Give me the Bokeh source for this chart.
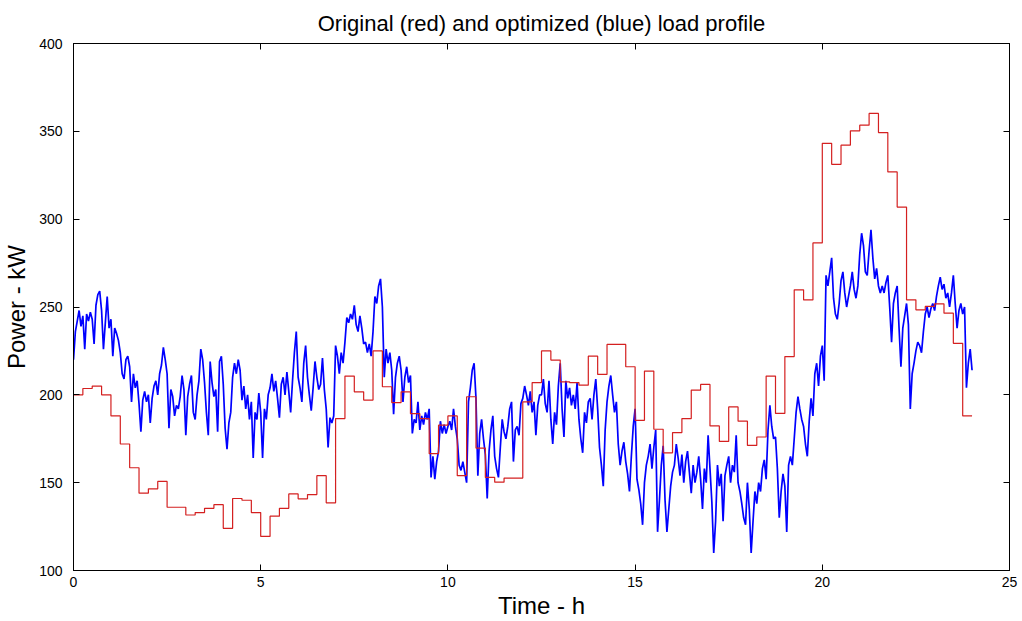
from bokeh.plotting import figure
from bokeh.models import LinearAxis, Range1d, FixedTicker, CustomJSTickFormatter
from bokeh.embed import file_html
from bokeh.resources import INLINE

# ---------------- data ----------------
title_text = "Original (red) and optimized (blue) load profile"
x_label = "Time - h"
y_label = "Power - kW"
x_ticks = [0, 5, 10, 15, 20, 25]
y_ticks = [100, 150, 200, 250, 300, 350, 400]

# original load profile: 15-minute steps over 24 h (kW)
original_step_h = 0.25
original_kw = [
    200, 203.6, 205, 200, 188, 172, 158.5, 144, 146.5, 150.7, 136, 136,
    131.6, 133, 135.4, 137.5, 124, 141, 140, 133, 119.4, 130.9, 135.4, 143.6,
    140.8, 143.2, 154, 138.5, 186.5, 210.7, 201.7, 197, 225, 204.6, 195.6, 201.7,
    189.3, 186.5, 166.5, 182.7, 188, 154, 198.9, 169.7, 153, 150.3, 152.6, 152.6,
    196, 207, 225, 219.8, 207.4, 207, 205.5, 222, 211.6, 228.7, 228.7, 216,
    185.5, 213.5, 180.4, 167, 178.5, 186.5, 202.7, 205.9, 182.3, 173.5, 193.1, 185,
    171.2, 176, 210.7, 189.4, 221.8, 259.8, 254, 286.5, 343.2, 331.2, 342.1, 350.3,
    353.5, 360.2, 349.3, 326.9, 306.9, 254.1, 248.4, 250.3, 251.8, 246.5, 229.3, 188,
]

# optimized load profile: read every 0.05 h (3 min) over 24 h (kW)
optimized_step_h = 0.05
optimized_kw = [
    # 0.00 - 4.20 h
    220, 236, 242, 248, 239, 245, 226, 246, 242, 247,
    243, 229, 251, 257, 259, 248, 226, 241, 256, 238,
    243, 222, 238, 235, 231, 224, 212, 209, 220, 222,
    216, 196, 212, 204, 208, 195, 179, 197, 202, 196,
    200, 184, 198, 205, 208, 200, 212, 217, 227, 220,
    212, 181, 203, 199, 188, 194, 192, 199, 211, 203,
    177, 199, 206, 211, 190, 186, 200, 208, 226, 220,
    207, 190, 177, 219, 207, 199, 203, 179, 219, 222,
    206, 181, 169, 184, 190,
    # 4.25 - 8.30 h
    210, 218, 212, 220, 214, 197, 205, 192, 200, 186,
    196, 164, 190, 186, 201, 190, 164, 192, 186, 200,
    204, 212, 202, 208, 198, 187, 206, 210, 200, 213,
    202, 190, 208, 224, 236, 210, 204, 196, 218, 228,
    210, 200, 191, 204, 219, 210, 203, 206, 221, 203,
    192, 170, 187, 184, 188, 228, 222, 212, 224, 218,
    230, 244, 241, 246, 243, 251, 240, 236, 245, 238,
    229, 230, 224, 229, 222, 236, 256, 252, 262, 266,
    250, 210,
    # 8.35 - 12.45 h
    226, 218, 224, 214, 189, 210, 218, 222, 214, 196,
    210, 216, 207, 211, 178, 186, 184, 196, 180, 188,
    183, 190, 186, 192, 153, 165, 152, 162, 168, 185,
    178, 183, 178, 182, 185, 180, 192, 182, 175, 160,
    157, 162, 156, 150, 196, 204, 214, 218, 198, 154,
    178, 186, 175, 166, 141, 168, 180, 188, 165, 158,
    153, 170, 186, 179, 175, 182, 192, 196, 162, 180,
    182, 177, 195, 198, 205, 200, 194, 202, 190, 196,
    177, 194, 200,
    # 12.50 - 16.55 h
    200, 209, 195, 190, 208, 186, 172, 190, 183, 205,
    218, 192, 176, 208, 198, 204, 194, 200, 192, 207,
    186, 175, 167, 190, 184, 196, 198, 186, 200, 209,
    192, 170, 160, 148, 180, 196, 205, 211, 200, 190,
    196, 172, 160, 168, 173, 162, 155, 145, 165, 182,
    192, 152, 146, 138, 126, 150, 160, 165, 172, 158,
    170, 180, 122, 140, 160, 171, 140, 122, 135, 148,
    156, 160, 172, 164, 154, 166, 150, 162, 168, 156,
    144, 160,
    # 16.60 - 20.70 h
    150, 156, 165, 152, 135, 158, 150, 177, 158, 139,
    110, 128, 160, 148, 155, 128, 154, 160, 165, 150,
    160, 156, 177, 150, 145, 138, 130, 126, 150, 135,
    110, 128, 145, 138, 150, 145, 158, 163, 152, 180,
    194, 182, 175, 176, 158, 130, 145, 155, 148, 122,
    160, 165, 160, 175, 190, 199, 192, 186, 182, 172,
    165, 185, 198, 188, 212, 218, 205, 222, 228, 208,
    268, 262, 270, 278, 255, 246, 243, 252, 265, 270,
    258, 250, 256,
    # 20.75 - 24.00 h
    262, 270, 260, 255, 262, 280, 292, 285, 270, 268,
    282, 294, 278, 266, 272, 262, 258, 262, 258, 264,
    268, 250, 230, 252, 258, 262, 238, 216, 238, 245,
    252, 240, 192, 212, 218, 225, 230, 228, 224, 236,
    246, 250, 244, 249, 252, 248, 256, 262, 267, 260,
    263, 255, 258, 250, 258, 268, 252, 238, 248, 252,
    246, 250, 204, 218, 226, 214,
]

# ---------------- derived series ----------------
original_t = [i * original_step_h for i in range(len(original_kw) + 1)]
original_y = original_kw + [original_kw[-1]]
optimized_t = [i * optimized_step_h for i in range(len(optimized_kw))]

FONT = "Liberation Sans"

p = figure(
    width=1022, height=621,
    x_range=Range1d(0, 25), y_range=Range1d(100, 400),
    output_backend="svg", toolbar_location=None,
    title=title_text,
    min_border_left=73, min_border_right=13,
    min_border_top=43, min_border_bottom=50,
)

p.background_fill_color = "white"
p.border_fill_color = "white"
p.outline_line_color = "black"
p.outline_line_width = 1
p.xgrid.visible = False
p.ygrid.visible = False

p.title.text_font = FONT
p.title.text_font_size = "22px"
p.title.text_font_style = "normal"
p.title.align = "center"
p.title.text_color = "black"
p.title.standoff = 15

for ax in (p.xaxis[0], p.yaxis[0]):
    ax.major_tick_in = 6
    ax.major_tick_out = 0
    ax.minor_tick_line_color = None
    ax.axis_line_color = "black"
    ax.major_tick_line_color = "black"
    ax.major_label_text_font = FONT
    ax.major_label_text_font_size = "14px"
    ax.major_label_text_color = "black"
    ax.axis_label_text_font = FONT
    ax.axis_label_text_font_size = "24px"
    ax.axis_label_text_font_style = "normal"
    ax.axis_label_text_color = "black"

p.xaxis[0].ticker = FixedTicker(ticks=x_ticks)
p.yaxis[0].ticker = FixedTicker(ticks=y_ticks)
p.xaxis[0].axis_label = x_label
p.yaxis[0].axis_label = y_label
p.xaxis[0].major_label_standoff = 6
p.xaxis[0].axis_label_standoff = 2
p.yaxis[0].major_label_standoff = 11
p.yaxis[0].axis_label_standoff = 6

# mirrored ticks on top and right (box style), without labels
blank = CustomJSTickFormatter(code="return '';")
top_ax = LinearAxis(ticker=FixedTicker(ticks=x_ticks), formatter=blank)
right_ax = LinearAxis(ticker=FixedTicker(ticks=y_ticks), formatter=blank)
for ax in (top_ax, right_ax):
    ax.major_tick_in = 6
    ax.major_tick_out = 0
    ax.minor_tick_line_color = None
    ax.axis_line_color = "black"
    ax.major_tick_line_color = "black"
    ax.major_label_text_font_size = "1px"
    ax.major_label_standoff = 0
p.add_layout(top_ax, "above")
p.add_layout(right_ax, "right")

p.line(optimized_t, optimized_kw, line_color="#0000ff", line_width=1.7)
p.step(original_t, original_y, mode="after", line_color="#d42020", line_width=1.2)

open("out.html", "w").write(file_html(p, INLINE))
